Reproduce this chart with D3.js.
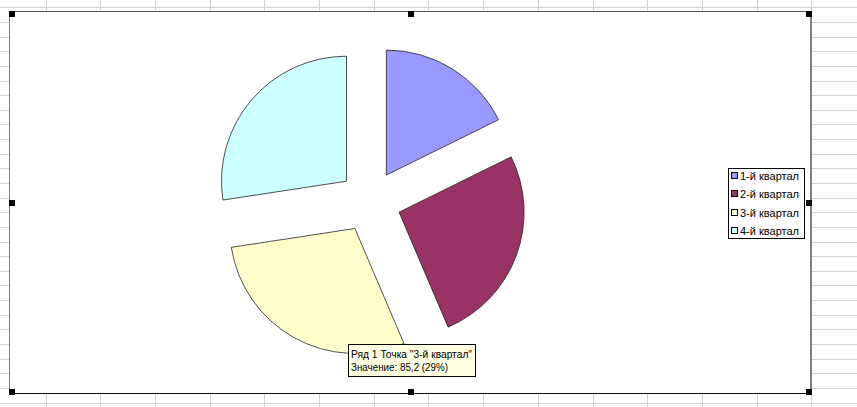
<!DOCTYPE html>
<html>
<head>
<meta charset="utf-8">
<script src="https://cdn.jsdelivr.net/npm/d3@7"></script>
<style>
  html, body { margin: 0; padding: 0; background: #fff; }
  svg { display: block; }
</style>
</head>
<body>
<svg id="chart" width="857" height="407"></svg>
<script>
// ---- data ----
const categories = ["1-й квартал", "2-й квартал", "3-й квартал", "4-й квартал"];
const values = [52, 76, 85.2, 80.5];
const seriesName = "Ряд 1";
const colors = ["#9999FF", "#993366", "#FFFFCC", "#CCFFFF"];
const highlighted = 2;

// ---- layout ----
const W = 857, H = 407;
const svg = d3.select("#chart");

// spreadsheet grid behind chart
const colX = d3.range(0, 16).map(i => 45.7 + i * 54.68);
const rowY = d3.range(0, 28).map(i => 7.3 + i * 14.64);
const grid = svg.append("g").attr("shape-rendering", "crispEdges");
grid.selectAll("line.v").data(colX).join("line")
  .attr("x1", d => Math.round(d) + 0.5).attr("x2", d => Math.round(d) + 0.5)
  .attr("y1", 0).attr("y2", H).attr("stroke", "#d0d0d0");
grid.selectAll("line.h").data(rowY).join("line")
  .attr("y1", d => Math.round(d) + 0.5).attr("y2", d => Math.round(d) + 0.5)
  .attr("x1", 0).attr("x2", W).attr("stroke", "#d0d0d0");

// chart area
const ca = { x0: 9, y0: 11, x1: 811, y1: 393 };
svg.append("rect").attr("x", ca.x0).attr("y", ca.y0)
  .attr("width", ca.x1 - ca.x0).attr("height", ca.y1 - ca.y0).attr("fill", "#fff");
const border = svg.append("g").attr("shape-rendering", "crispEdges");
border.append("line").attr("x1", ca.x0).attr("x2", ca.x1).attr("y1", ca.y0 + 0.5).attr("y2", ca.y0 + 0.5).attr("stroke", "#555");
border.append("line").attr("x1", ca.x0 + 0.5).attr("x2", ca.x0 + 0.5).attr("y1", ca.y0).attr("y2", ca.y1).attr("stroke", "#808080");
border.append("line").attr("x1", ca.x1).attr("x2", ca.x1).attr("y1", ca.y0).attr("y2", ca.y1).attr("stroke", "#808080").attr("stroke-width", 2);
border.append("line").attr("x1", ca.x0).attr("x2", ca.x1).attr("y1", ca.y1 + 0.5).attr("y2", ca.y1 + 0.5).attr("stroke", "#111");

// pie
const cx = 370, cy = 201.4, R = 125, explode = 31;
const pie = d3.pie().sort(null).value(d => d)(values);
const arc = d3.arc().innerRadius(0).outerRadius(R);
const pg = svg.append("g").attr("transform", `translate(${cx},${cy})`);
pg.selectAll("path").data(pie).join("path")
  .attr("d", arc)
  .attr("transform", d => {
    const m = (d.startAngle + d.endAngle) / 2;
    return `translate(${explode * Math.sin(m)},${-explode * Math.cos(m)})`;
  })
  .attr("fill", (d, i) => colors[i])
  .attr("stroke", "#222").attr("stroke-width", 0.8).attr("stroke-linejoin", "miter");

// legend
const lg = svg.append("g");
const lx = 728, ly = 168, lw = 76, lh = 70;
lg.append("rect").attr("x", lx + 0.5).attr("y", ly + 0.5).attr("width", lw).attr("height", lh)
  .attr("fill", "#fff").attr("stroke", "#000").attr("shape-rendering", "crispEdges");
const rowsY = [176, 194.3, 212.6, 230.9];
categories.forEach((c, i) => {
  lg.append("rect").attr("x", 731.5).attr("y", rowsY[i] - 3.5).attr("width", 6).attr("height", 6)
    .attr("fill", colors[i]).attr("stroke", "#000").attr("shape-rendering", "crispEdges");
  lg.append("text").attr("x", 740).attr("y", rowsY[i] + 4)
    .attr("font-family", "Liberation Sans, Arial, sans-serif").attr("font-size", 11)
    .attr("fill", "#000").text(c);
});

// selection handles
const hs = 5;
const hx = [ca.x0, (ca.x0 + ca.x1) / 2 - hs / 2, ca.x1 - hs];
const hy = [ca.y0, (ca.y0 + ca.y1) / 2 - hs / 2, ca.y1 - hs + 1];
const handles = [];
hx.forEach((x, i) => hy.forEach((y, j) => { if (!(i === 1 && j === 1)) handles.push([x, y]); }));
svg.append("g").selectAll("rect").data(handles).join("rect")
  .attr("x", d => Math.round(d[0])).attr("y", d => Math.round(d[1]))
  .attr("width", hs + 1).attr("height", hs + 1).attr("fill", "#000");

// tooltip
const total = d3.sum(values);
const pct = Math.round(values[highlighted] / total * 100);
const tt = svg.append("g");
tt.append("rect").attr("x", 348.5).attr("y", 344.5).attr("width", 127).attr("height", 32)
  .attr("fill", "#FFFFE1").attr("stroke", "#000").attr("shape-rendering", "crispEdges");
tt.append("text").attr("x", 351).attr("y", 357.5)
  .attr("font-family", "Liberation Sans, Arial, sans-serif").attr("font-size", 10.5)
  .attr("textLength", 121).attr("lengthAdjust", "spacingAndGlyphs")
  .text(`${seriesName} Точка "${categories[highlighted]}"`);
tt.append("text").attr("x", 351).attr("y", 371)
  .attr("font-family", "Liberation Sans, Arial, sans-serif").attr("font-size", 10.5)
  .attr("textLength", 97).attr("lengthAdjust", "spacingAndGlyphs")
  .text(`Значение: ${String(values[highlighted]).replace(".", ",")} (${pct}%)`);
</script>
</body>
</html>
